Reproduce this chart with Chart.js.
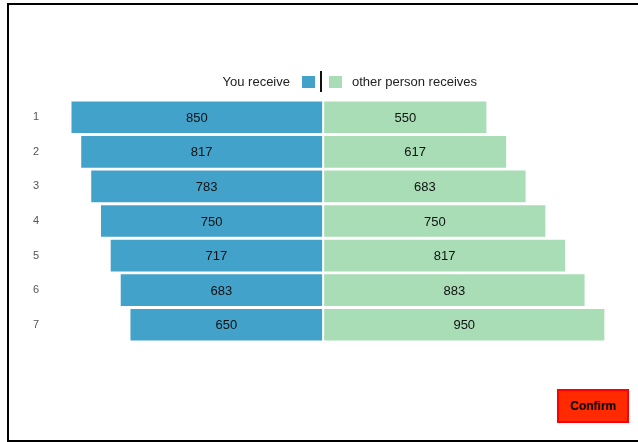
<!DOCTYPE html>
<html>
<head>
<meta charset="utf-8">
<script src="https://cdn.jsdelivr.net/npm/chart.js@4"></script>
<style>
  html, body { margin: 0; padding: 0; width: 638px; height: 442px; overflow: hidden; background: #fff; }
  body { position: relative; font-family: Helvetica, Arial, "Liberation Sans", sans-serif; }
  #frame { position: absolute; left: 7px; top: 3px; width: 700px; height: 435px; border: 2px solid #000; box-sizing: content-box; }
  #chart { position: absolute; left: 0; top: 0; }
  #legend { position: absolute; top: 71px; left: 0; width: 638px; height: 21px; color: #222; font-size: 13px; }
  #legend .left { position: absolute; right: 317px; top: 0; height: 21px; display: flex; align-items: center; }
  #legend .right { position: absolute; left: 322px; top: 0; height: 21px; display: flex; align-items: center; }
  #legend .sep { position: absolute; left: 320px; top: 0; width: 1.5px; height: 21px; background: #111; }
  #legend .box { display: inline-block; width: 13px; height: 12px; }
  #confirm { position: absolute; left: 557px; top: 389px; width: 72px; height: 34px; box-sizing: border-box;
    background: #ff2a00; border: 2px solid #ff0000; font: bold 12px Helvetica, Arial, sans-serif; color: #000;
    padding: 0; }
</style>
</head>
<body>
<div id="frame"></div>
<canvas id="chart" width="638" height="442"></canvas>
<div id="legend"></div>
<button id="confirm">Confirm</button>
<script>
// rows of the choice table
var rows = ['1', '2', '3', '4', '5', '6', '7'];
var youReceive = [850, 817, 783, 750, 717, 683, 650];
var otherReceives = [550, 617, 683, 750, 817, 883, 950];
var seriesLabels = ['You receive', 'other person receives'];
var seriesColors = ['#43a2ca', '#a8ddb5'];

Chart.defaults.font.family = 'Helvetica, Arial, "Liberation Sans", sans-serif';

// write the amount in the middle of every bar
var barValues = {
    id: 'barValues',
    afterDatasetsDraw: function (chart) {
        var ctx = chart.ctx;
        ctx.save();
        ctx.font = '13px Helvetica, Arial, sans-serif';
        ctx.fillStyle = '#111';
        ctx.textAlign = 'center';
        ctx.textBaseline = 'middle';
        chart.data.datasets.forEach(function (ds, i) {
            chart.getDatasetMeta(i).data.forEach(function (bar, j) {
                var c = bar.getCenterPoint();
                ctx.fillText(Math.abs(ds.data[j]), c.x, c.y + 1);
            });
        });
        ctx.restore();
    }
};

var ctx = document.getElementById('chart').getContext('2d');
var chart = new Chart(ctx, {
    type: 'bar',
    data: {
        labels: rows,
        datasets: [{
            label: seriesLabels[0],
            data: youReceive.map(function (v) { return -v; }),
            backgroundColor: seriesColors[0],
            borderWidth: 0,
            xAxisID: 'x'
        }, {
            label: seriesLabels[1],
            data: otherReceives,
            backgroundColor: seriesColors[1],
            borderWidth: 0,
            xAxisID: 'x2'
        }]
    },
    options: {
        indexAxis: 'y',
        responsive: false,
        animation: false,
        layout: { padding: { top: 100, bottom: 100, left: 0, right: 21 } },
        datasets: { bar: { categoryPercentage: 1, barPercentage: 0.915 } },
        plugins: {
            legend: { display: false },
            tooltip: { enabled: false }
        },
        scales: {
            // same units per pixel on both sides, the right one starts 2px past the middle
            x: { stacked: true, display: false, min: -950, max: 1000 },
            x2: { stacked: true, display: false, min: -957, max: 993 },
            y: {
                stacked: true,
                grid: { display: false, drawTicks: false },
                border: { display: false },
                ticks: { color: '#555', font: { size: 11 }, padding: 3 },
                afterFit: function (scale) { scale.width = 42; }
            }
        }
    },
    plugins: [barValues]
});

// legend: label then box on the left, box then label on the right
var ds = chart.data.datasets;
document.getElementById('legend').innerHTML =
    '<div class="left"><span>' + ds[0].label + '</span>' +
    '<span class="box" style="margin-left:12px;margin-right:6px;background:' + ds[0].backgroundColor + '"></span></div>' +
    '<div class="sep"></div>' +
    '<div class="right"><span class="box" style="margin-left:7px;margin-right:10px;background:' + ds[1].backgroundColor + '"></span>' +
    '<span>' + ds[1].label + '</span></div>';
</script>
</body>
</html>
